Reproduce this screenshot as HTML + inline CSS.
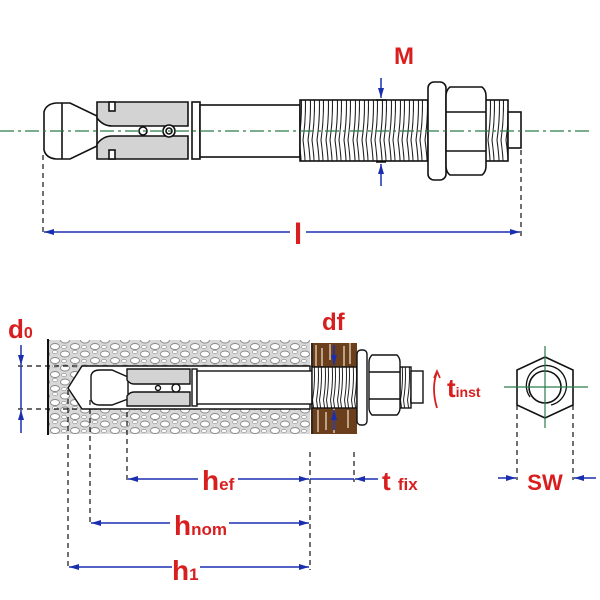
<!DOCTYPE html>
<html><head><meta charset="utf-8"><style>
html,body{margin:0;padding:0;background:#fff}
svg{display:block}
text{font-family:"Liberation Sans",Arial,sans-serif;font-weight:bold;fill:#d81e1e}
</style></head><body>
<svg width="600" height="600" viewBox="0 0 600 600" xmlns="http://www.w3.org/2000/svg">
<defs>
<marker id="ar" viewBox="0 0 10 6" refX="10" refY="3" markerWidth="10" markerHeight="6" orient="auto" markerUnits="userSpaceOnUse"><path d="M0,0 L10,3 L0,6 z" fill="#1a2fb0"/></marker>
<pattern id="conc" width="20" height="14" patternUnits="userSpaceOnUse">
<rect width="20" height="14" fill="#d8d8d8"/>
<ellipse cx="5" cy="4" rx="4.5" ry="3" fill="#fff" stroke="#888" stroke-width="0.9"/>
<ellipse cx="15" cy="10.5" rx="4.5" ry="3" fill="#fff" stroke="#888" stroke-width="0.9"/>
<ellipse cx="15" cy="2" rx="2.5" ry="1.6" fill="#fff" stroke="#999" stroke-width="0.7"/>
<ellipse cx="4" cy="11" rx="2.5" ry="1.6" fill="#fff" stroke="#999" stroke-width="0.7"/>
</pattern>
<pattern id="thr" width="9" height="70" patternUnits="userSpaceOnUse">
<rect width="9" height="70" fill="#fff"/>
<path d="M2,0 Q7,35 2,70 M6,0 Q11,35 6,70" stroke="#222" stroke-width="1.1" fill="none"/>
</pattern>
<pattern id="thr2" width="7" height="50" patternUnits="userSpaceOnUse">
<rect width="7" height="50" fill="#fff"/>
<path d="M1.5,0 Q5.5,25 1.5,50 M4.5,0 Q8.5,25 4.5,50" stroke="#222" stroke-width="1" fill="none"/>
</pattern>
</defs>

<!-- TOP VIEW -->
<g stroke="#111" stroke-width="1.6" fill="#fff">
<path d="M44,112 Q46,104 56,103 L70,103 L97,116 L97,146 L70,159 L56,159 Q46,158 44,150 Z"/>
<line x1="62" y1="103" x2="62" y2="159"/>
<path d="M97,102 H188 V126 H112 Q103,126 97,118 Z" fill="#d3d3d3"/>
<path d="M97,159 H188 V136 H112 Q103,136 97,144 Z" fill="#d3d3d3"/>
<rect x="109" y="102" width="6" height="9" fill="#fff"/>
<rect x="109" y="150" width="6" height="9" fill="#fff"/>
<circle cx="143" cy="131" r="4"/>
<circle cx="169" cy="131" r="6"/><circle cx="169" cy="131" r="3"/>
<rect x="192" y="102" width="8" height="57"/>
<rect x="200" y="105" width="100" height="52"/>
<rect x="300" y="100" width="128" height="61" fill="url(#thr)"/>
<rect x="484" y="100" width="24" height="61" fill="url(#thr)"/>
<rect x="508" y="112" width="13" height="36"/>
<rect x="428" y="82" width="18" height="98" rx="6"/>
<path d="M450,87 H482 Q486,90 486,96 V166 Q486,172 482,175 H450 Q446,172 446,166 V96 Q446,90 450,87 Z"/>
<line x1="446" y1="112" x2="486" y2="112"/><line x1="446" y1="151" x2="486" y2="151"/>
</g>
<line x1="0" y1="131" x2="592" y2="131" stroke="#2a7a4a" stroke-width="1.3" stroke-dasharray="14,4,3,4"/>
<g stroke="#111" stroke-width="1.2" stroke-dasharray="5,4">
<line x1="43" y1="155" x2="43" y2="236"/><line x1="521" y1="150" x2="521" y2="236"/>
</g>
<g stroke="#1a2fb0" stroke-width="1.5" fill="none">
<line x1="290" y1="232" x2="44" y2="232" marker-end="url(#ar)"/>
<line x1="306" y1="232" x2="520" y2="232" marker-end="url(#ar)"/>
<line x1="381" y1="78" x2="381" y2="98" marker-end="url(#ar)"/>
<line x1="381" y1="186" x2="381" y2="164" marker-end="url(#ar)"/>
</g>
<line x1="376" y1="100" x2="386" y2="100" stroke="#111" stroke-width="1.5"/>
<line x1="376" y1="162" x2="386" y2="162" stroke="#111" stroke-width="1.5"/>
<text x="404" y="64" font-size="24" text-anchor="middle">M</text>
<text x="298" y="244" font-size="30" text-anchor="middle">l</text>

<!-- BOTTOM SECTION -->
<rect x="48" y="340" width="262" height="94" fill="url(#conc)"/>
<path d="M310,366 H82 L68,388 L82,409 H310 Z" fill="#fff" stroke="#111" stroke-width="1.4"/>
<line x1="48" y1="339" x2="48" y2="435" stroke="#111" stroke-width="2"/>
<rect x="311" y="343" width="46" height="24" fill="#6b3f1c"/>
<rect x="311" y="408" width="46" height="26" fill="#6b3f1c"/>
<g stroke="#e8d8c0" stroke-width="1.3">
<path d="M316,345 V366 M322,348 V366 M330,344 V360 M344,346 V366 M350,343 V364 M318,410 V432 M326,412 V430 M334,408 V433 M348,410 V428"/>
</g>
<line x1="312" y1="343" x2="312" y2="434" stroke="#222" stroke-width="1.5"/>
<g stroke="#111" stroke-width="1.4" fill="#fff">
<path d="M91,376 Q92,370 100,370 L112,370 L128,377 L128,399 L112,405 L100,405 Q92,405 91,399 Z"/>
<path d="M127,369 H190 V384 H134 Q130,384 127,380 Z" fill="#d3d3d3"/>
<path d="M127,406 H190 V392 H134 Q130,392 127,396 Z" fill="#d3d3d3"/>
<circle cx="158" cy="388" r="2.5"/><circle cx="176" cy="388" r="4"/>
<rect x="192" y="369" width="5" height="37"/>
<rect x="197" y="371" width="115" height="33"/>
<rect x="312" y="367" width="45" height="41" fill="url(#thr2)"/>
<rect x="400" y="367" width="11" height="41" fill="url(#thr2)"/>
<rect x="411" y="371" width="12" height="32"/>
<rect x="357" y="350" width="10" height="75" rx="4"/>
<path d="M372,355 H397 Q400,358 400,362 V408 Q400,412 397,415 H372 Q369,412 369,408 V362 Q369,358 372,355 Z"/>
<line x1="369" y1="372" x2="400" y2="372"/><line x1="369" y1="399" x2="400" y2="399"/>
</g>
<g stroke="#111" stroke-width="1.2" stroke-dasharray="5,4" fill="none">
<line x1="18" y1="366" x2="80" y2="366"/><line x1="18" y1="409" x2="80" y2="409"/>
<line x1="68" y1="390" x2="68" y2="570"/>
<line x1="90" y1="400" x2="90" y2="526"/>
<line x1="127" y1="412" x2="127" y2="482"/>
<line x1="310" y1="452" x2="310" y2="570"/>
<line x1="354" y1="452" x2="354" y2="482"/>
<line x1="517" y1="405" x2="517" y2="480"/><line x1="573" y1="405" x2="573" y2="480"/>
</g>
<g stroke="#1a2fb0" stroke-width="1.5" fill="none">
<line x1="21" y1="345" x2="21" y2="365" marker-end="url(#ar)"/>
<line x1="21" y1="366" x2="21" y2="409"/>
<line x1="21" y1="433" x2="21" y2="410" marker-end="url(#ar)"/>
<line x1="334" y1="345" x2="334" y2="365" marker-end="url(#ar)"/>
<line x1="334" y1="430" x2="334" y2="410" marker-end="url(#ar)"/>
<line x1="198" y1="479" x2="128" y2="479" marker-end="url(#ar)"/>
<line x1="238" y1="479" x2="309" y2="479" marker-end="url(#ar)"/>
<line x1="310" y1="479" x2="354" y2="479"/>
<line x1="378" y1="479" x2="355" y2="479" marker-end="url(#ar)"/>
<line x1="170" y1="523" x2="91" y2="523" marker-end="url(#ar)"/>
<line x1="229" y1="523" x2="309" y2="523" marker-end="url(#ar)"/>
<line x1="172" y1="567" x2="69" y2="567" marker-end="url(#ar)"/>
<line x1="200" y1="567" x2="309" y2="567" marker-end="url(#ar)"/>
<line x1="498" y1="478" x2="516" y2="478" marker-end="url(#ar)"/>
<line x1="596" y1="478" x2="574" y2="478" marker-end="url(#ar)"/>
</g>
<path d="M437,372 Q431,388 437,408" stroke="#d81e1e" stroke-width="1.8" fill="none"/>
<path d="M434,378 L437,371 L440,378" stroke="#d81e1e" stroke-width="1.6" fill="none"/>
<text x="8" y="338" font-size="26">d<tspan font-size="16">0</tspan></text>
<text x="322" y="330" font-size="24">df</text>
<text x="447" y="397" font-size="26">t<tspan font-size="14">inst</tspan></text>
<text x="202" y="490" font-size="28">h<tspan font-size="17">ef</tspan></text>
<text x="382" y="490" font-size="26">t <tspan font-size="17">fix</tspan></text>
<text x="174" y="535" font-size="28">h<tspan font-size="17">nom</tspan></text>
<text x="172" y="580" font-size="28">h<tspan font-size="17">1</tspan></text>
<text x="545" y="490" font-size="22" text-anchor="middle">SW</text>

<!-- HEX END VIEW -->
<path d="M545,357 L573,370 L573,405 L545,418 L517,405 L517,370 Z" fill="#fff" stroke="#111" stroke-width="1.6"/>
<circle cx="545" cy="387" r="16" fill="none" stroke="#111" stroke-width="1.6"/>
<path d="M530,397 A20,20 0 1 1 551,405" fill="none" stroke="#111" stroke-width="1.3"/>
<g stroke="#2a7a4a" stroke-width="1.2">
<line x1="545" y1="346" x2="545" y2="428"/><line x1="504" y1="387" x2="588" y2="387"/>
</g>
</svg>
</body></html>
